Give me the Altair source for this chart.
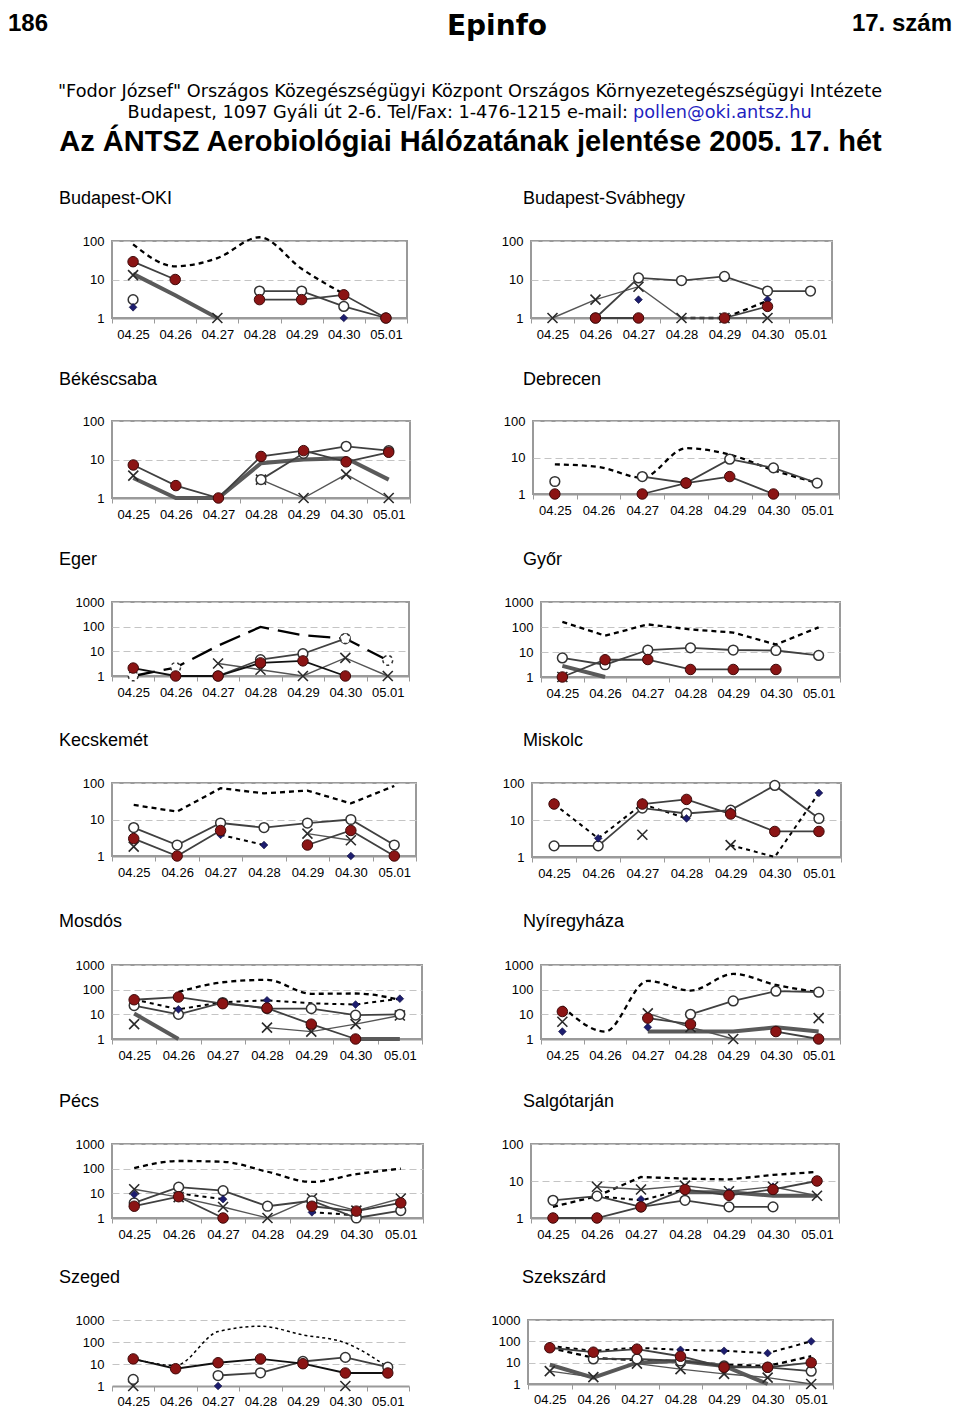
import altair as alt
import pandas as pd

DATES = ["04.25", "04.26", "04.27", "04.28", "04.29", "04.30", "05.01"]

# ---- Budapest-OKI
OKI_TOT = [82, 22, 36, 125, 19, 4.2, None]
OKI_OPEN = [3, None, None, 5, 5, 2, 1]
OKI_RED = [29, 10, None, 3, 3, 4, 1]
OKI_DIA = [1.9, None, None, None, None, 1, None]
OKI_CROSS = [13, None, 1, None, None, None, None]
OKI_THICK = [14, 3.9, 1, None, None, None, None]
# ---- Budapest-Svábhegy
SVA_TOT = [None, None, None, 1, 1, 2.8, None]
SVA_OPEN = [None, 1, 11, 9.4, 12, 5, 5]
SVA_RED = [None, 1, 1, None, 1, 2, None]
SVA_DIA = [None, None, 3, None, None, 3, None]
SVA_CROSS = [1, 3, 6.5, 1, 1, 1, None]
# ---- Békéscsaba
BEK_RED = [7.2, 2.1, 1, 12, 17, 8.7, 15.4]
BEK_OPEN = [None, None, None, 3, 14.5, 22, 17]
BEK_CROSS = [3.8, None, None, 3, 1, 4.1, 1]
BEK_THICK = [3.3, 1, 1, 8, 10, 10.8, 3]
# ---- Debrecen
DEB_TOT = [6.5, 5.5, 2.8, 18, 12, 4.5, 2]
DEB_OPEN = [2.2, None, 3, 2, 9, 5.2, 2]
DEB_RED = [1, None, 1, 2, 3, 1, None]
# ---- Eger
EGE_TOT = [1, 2.2, 17, 97, 45, 33, 4.3]
EGE_RING = [1, 2.2, None, None, None, 33, 4.3]
EGE_OPEN = [None, None, 1, 4.6, 8, 33, None]
EGE_RED = [2.1, 1, 1, 3.4, 4.1, 1, None]
EGE_CROSS = [None, None, 3.2, 1.8, 1, 5.4, 1]
# ---- Győr
GYO_TOT = [160, 45, 127, 80, 60, 20, 97]
GYO_OPEN = [5.8, 3.1, 12, 14.6, 12, 11.5, 7.3]
GYO_RED = [1, 4.9, 5, 2, 2, 2, None]
GYO_CROSS = [1, None, None, None, None, None, None]
GYO_THICK = [2.8, 1, None, None, None, None, None]
# ---- Kecskemét
KEC_TOT = [25, 16.5, 72, 52, 62, 27.6, 83]
KEC_OPEN = [6, 2, 8, 6, 8, 10, 2]
KEC_RED = [3, 1, 5, None, 2, 5, 1]
KEC_DIA = [None, None, 3.8, 2, None, 1, None]
KEC_DLINE = [None, None, 3.8, 2, None, None, None]
KEC_CROSS = [1.8, None, None, None, 4.1, 2.7, None]
# ---- Miskolc
MIS_OPEN = [2, 2, 21, 15, 18.5, 86, 11]
MIS_RED = [27, None, 27, 36, 14.5, 4.9, 4.9]
MIS_DIA = [30, 3.2, 30, 11, 17, None, 54]
MIS_DLINE = [27, 3.2, 27, 11, None, None, None]
MIS_TOT2 = [None, None, None, None, 2.1, 1, 54]
MIS_CROSS = [None, None, 4, None, 2.1, None, None]
# ---- Mosdós
MOS_TOT = [None, 80, 200, 250, 68, 70, 39]
MOS_DLINE = [40, 16, 31, 37, 28, 25, 43]
MOS_DIA = [40, 16, 31, 37, None, 25, 43]
MOS_RED = [39, 50, 27, 18, 4, 1, None]
MOS_OPEN = [22.6, 10, 30, 17, 17, 9.3, 10]
MOS_CROSS = [4, None, None, 2.9, 2, 4, 9]
MOS_THICK = [10.8, 1, None, None, None, 1, 1]
# ---- Nyíregyháza
NYI_TOT = [21, 2, 228, 92, 435, 156, 79]
NYI_OPEN = [None, None, None, 10, 35, 87, 79]
NYI_RED = [13, None, 7, 4, None, 2, 1]
NYI_DIA = [2, None, 3, None, None, None, None]
NYI_CROSS = [5, None, 11, 3, 1, None, 7]
NYI_THICK = [None, None, 2, 2, 2, 3, 2]
# ---- Pécs
PEC_TOT = [105, 205, 190, 75, 29, 60, 100]
PEC_OPEN = [4.1, 17.8, 12.9, 3, 5, 1, 2]
PEC_RED = [3, 7.3, 1, None, 3, 1.9, 4.1]
PEC_CROSS = [14.6, 7, 2.8, 1, 6.2, 2, 6.2]
PEC_DIA = [9, None, 5.8, None, 1.7, None, None]
PEC_DLINE = [None, 10, 5.8, None, 1.7, 1.3, None]
# ---- Salgótarján
SAL_TOT = [2, 3.9, 12.8, 11.6, 11, 14.6, 17.6]
SAL_TOT2 = [None, 3.9, 3, 6, None, None, None]
SAL_OPEN = [3, 3.9, 2, 3, 2, 2, None]
SAL_RED = [1, 1, 2, 5.9, 4.1, 5.9, 10]
SAL_CROSS = [None, 7, 5.9, 7.5, 5.3, 7, 4]
SAL_DIA = [None, None, 3.2, None, 5, 7, None]
SAL_THICK = [None, None, None, 5, 5, 4, 4]
# ---- Szeged
SZG_TOT = [17, 8.6, 297, 520, 210, 91, 7.2]
SZG_RED = [17, 6.1, 11.4, 17, 10.3, 3.9, 3.9]
SZG_OPEN = [2, None, 3, 4, 13, 20, 7.2]
SZG_DIA = [None, None, 1, None, None, None, None]
SZG_CROSS = [1, None, None, None, None, 1, None]
# ---- Szekszárd
SZK_DLINE = [61, 36, 50, 40, 36, 28, 100]
SZK_DIA = [61, 36, 50, 40, 36, 28, 100]
SZK_RED = [50, 31, 43, 20, 6.1, 6.1, 10]
SZK_OPEN = [None, 15, 15, 12, 7, 6, 4]
SZK_CROSS = [4, 2.1, 9, 5, 3, 2, 1]
SZK_TOT = [50, 17, 13, 12, 8, 7, 20]
SZK_THICK = [8, 2, 10, 12, 7, 1, None]

PANELS = [
    dict(name="Budapest-OKI", ymax=100, interp="monotone",
         series=dict(tot=OKI_TOT, thick=OKI_THICK, cross=OKI_CROSS, open=OKI_OPEN, dia=OKI_DIA, red=OKI_RED)),
    dict(name="Budapest-Svábhegy", ymax=100,
         series=dict(tot=SVA_TOT, cross=SVA_CROSS, open=SVA_OPEN, dia=SVA_DIA, red=SVA_RED)),
    dict(name="Békéscsaba", ymax=100,
         series=dict(thick=BEK_THICK, cross=BEK_CROSS, open=BEK_OPEN, red=BEK_RED)),
    dict(name="Debrecen", ymax=100, interp="monotone",
         series=dict(tot=DEB_TOT, open=DEB_OPEN, red=DEB_RED)),
    dict(name="Eger", ymax=1000, dash=[22, 9], redline="#111111",
         series=dict(tot=EGE_TOT, cross=EGE_CROSS, open=EGE_OPEN, ring=EGE_RING, red=EGE_RED)),
    dict(name="Győr", ymax=1000,
         series=dict(tot=GYO_TOT, thick=GYO_THICK, cross=GYO_CROSS, open=GYO_OPEN, red=GYO_RED)),
    dict(name="Kecskemét", ymax=100,
         series=dict(tot=KEC_TOT, dline=KEC_DLINE, cross=KEC_CROSS, open=KEC_OPEN, dia=KEC_DIA, red=KEC_RED)),
    dict(name="Miskolc", ymax=100,
         series=dict(dline=MIS_DLINE, tot2=MIS_TOT2, cross=MIS_CROSS, open=MIS_OPEN, dia=MIS_DIA, red=MIS_RED)),
    dict(name="Mosdós", ymax=1000, interp="monotone",
         series=dict(tot=MOS_TOT, dline=MOS_DLINE, thick=MOS_THICK, cross=MOS_CROSS, open=MOS_OPEN, dia=MOS_DIA, red=MOS_RED)),
    dict(name="Nyíregyháza", ymax=1000, interp="monotone",
         series=dict(tot=NYI_TOT, thick=NYI_THICK, cross=NYI_CROSS, open=NYI_OPEN, dia=NYI_DIA, red=NYI_RED)),
    dict(name="Pécs", ymax=1000, interp="monotone",
         series=dict(tot=PEC_TOT, dline=PEC_DLINE, cross=PEC_CROSS, open=PEC_OPEN, dia=PEC_DIA, red=PEC_RED)),
    dict(name="Salgótarján", ymax=100,
         series=dict(tot=SAL_TOT, tot2=SAL_TOT2, thick=SAL_THICK, cross=SAL_CROSS, open=SAL_OPEN, dia=SAL_DIA, red=SAL_RED)),
    dict(name="Szeged", ymax=1000, interp="monotone", dash=[3, 3], totw=1.5, redline="#111111", border=False,
         series=dict(tot=SZG_TOT, cross=SZG_CROSS, open=SZG_OPEN, dia=SZG_DIA, red=SZG_RED)),
    dict(name="Szekszárd", ymax=1000,
         series=dict(tot=SZK_TOT, dline=SZK_DLINE, thick=SZK_THICK, cross=SZK_CROSS, open=SZK_OPEN, dia=SZK_DIA, red=SZK_RED)),
]

# ---- layout (page pixels)
ORIGIN_X = 112                     # common left edge of the left-hand plots
ROW_TOP = [240, 420, 601, 782, 964, 1143, 1319]
TITLE_Y = [197, 378, 558, 739, 920, 1100, 1276]
TITLE_X = [59, 521]
ROW_FUDGE = 2                      # layout rounding per row
# plot left & right edge, plot bottom
GEOM = {
    "Budapest-OKI": (ORIGIN_X, 407, 317),
    "Budapest-Svábhegy": (529, 830, 317),
    "Békéscsaba": (ORIGIN_X, 410, 497),
    "Debrecen": (531, 837, 493),
    "Eger": (ORIGIN_X, 409, 675),
    "Győr": (539, 838, 676),
    "Kecskemét": (ORIGIN_X, 416, 855),
    "Miskolc": (530, 839, 856),
    "Mosdós": (ORIGIN_X, 422, 1038),
    "Nyíregyháza": (539, 838, 1038),
    "Pécs": (ORIGIN_X, 423, 1217),
    "Salgótarján": (529, 837, 1217),
    "Szeged": (ORIGIN_X, 409, 1385),
    "Szekszárd": (527, 832, 1383),
}
FONT = "Liberation Sans"
XPATH = "M-1,-1L1,1M-1,1L1,-1"
one = alt.Data(values=[{}])


def rows_for(key, vals):
    out = []
    seg = 0
    prev = False
    for d, v in zip(DATES, vals):
        if v is None:
            prev = False
            continue
        if not prev:
            seg += 1
        prev = True
        out.append({"date": d, "value": float(v), "s": key, "seg": f"{key}-{seg}"})
    return out


def build_panel(p, col, row):
    L, R, B = GEOM[p["name"]]
    T = ROW_TOP[row]
    w, h = R - L, B - T
    ymax = p["ymax"]
    ticks = [1, 10, 100] + ([1000] if ymax == 1000 else [])
    recs = []
    for k, v in p["series"].items():
        recs += rows_for(k, v)
    df = pd.DataFrame(recs)
    if row < 6:
        xext = (TITLE_Y[row + 1] - 8) - B - ROW_FUDGE
        lpad = 5
    else:
        xext = 22
        lpad = 4
    xenc = alt.X("date:O", sort=DATES,
                 scale=alt.Scale(type="band", domain=DATES, paddingInner=0, paddingOuter=0),
                 bandPosition=0.5,
                 axis=alt.Axis(title=None, labelAngle=0, tickBand="extent", grid=False,
                               domain=True, domainColor="#9a9a9a", domainWidth=2,
                               tickColor="#9a9a9a", tickSize=5, tickWidth=1,
                               labelFont=FONT, labelFontSize=13, labelColor="black",
                               labelPadding=lpad, minExtent=xext, maxExtent=xext))
    yenc = alt.Y("value:Q", scale=alt.Scale(type="log", domain=[1, ymax]),
                 axis=alt.Axis(title=None, values=ticks, format="d", grid=True,
                               gridColor="#c4c4c4", gridDash=[7, 4], gridWidth=1,
                               ticks=False, domain=False,
                               labelFont=FONT, labelFontSize=13, labelColor="black",
                               labelPadding=8, minExtent=40))
    base = alt.Chart(df).encode(x=xenc, y=yenc)

    def sel(k):
        return base.transform_filter(alt.datum.s == k)

    S = p["series"]
    layers = []
    if "tot" in S:
        layers.append(sel("tot").mark_line(color="black", strokeWidth=p.get("totw", 2.3),
                                           strokeDash=p.get("dash", [5, 4]),
                                           interpolate=p.get("interp", "linear"))
                      .encode(detail="seg:N"))
    if "tot2" in S:
        layers.append(sel("tot2").mark_line(color="black", strokeWidth=2, strokeDash=[4, 4])
                      .encode(detail="seg:N"))
    if "dline" in S:
        layers.append(sel("dline").mark_line(color="black", strokeWidth=2, strokeDash=[4, 4])
                      .encode(detail="seg:N"))
    if "thick" in S:
        layers.append(sel("thick").mark_line(color="#5a5a5a", strokeWidth=4)
                      .encode(detail="seg:N"))
    if "cross" in S:
        layers.append(sel("cross").mark_line(color="#555555", strokeWidth=1.4)
                      .encode(detail="seg:N"))
        layers.append(sel("cross").mark_point(shape=XPATH, size=100, filled=False,
                                              color="#2a2a2a", strokeWidth=1.6, opacity=1))
    if "open" in S:
        layers.append(sel("open").mark_line(color="#404040", strokeWidth=1.8)
                      .encode(detail="seg:N"))
        layers.append(sel("open").mark_circle(size=95, fill="white", stroke="#333333",
                                              strokeWidth=1.5, opacity=1))
    if "ring" in S:
        layers.append(sel("ring").mark_circle(size=95, fill="white", stroke="#333333",
                                              strokeWidth=1.5, strokeDash=[3, 3], opacity=1))
    if "dia" in S:
        layers.append(sel("dia").mark_point(shape="diamond", size=60, filled=True,
                                            fill="#1d1d6e", stroke="#0c0c3a",
                                            strokeWidth=0.6, opacity=1))
    if "red" in S:
        layers.append(sel("red").mark_line(color=p.get("redline", "#404040"), strokeWidth=1.8)
                      .encode(detail="seg:N"))
        layers.append(sel("red").mark_circle(size=110, fill="#8b1414", stroke="#3d0a0a",
                                             strokeWidth=1, opacity=1))
    # panel title as a text mark above the plot
    layers.append(alt.Chart(one).mark_text(text=p["name"], align="left", baseline="alphabetic",
                                           font=FONT, fontSize=18, color="black").encode(
        x=alt.value(TITLE_X[col] - L), y=alt.value(TITLE_Y[row] + 6.4 - T)))

    if p.get("border", True):
        view = alt.ViewBackground(stroke="#9a9a9a", strokeWidth=2)
    else:
        view = alt.ViewBackground(stroke=None)
    return alt.layer(*layers).properties(width=w, height=h, view=view)


# ---- header (x relative to the left plots' origin, y relative to the page top margin)
def hx(page_x):
    return page_x - ORIGIN_X


def txt(s, x, y, size, weight="normal", align="left", color="black", font=FONT):
    return alt.Chart(one).mark_text(text=s, align=align, baseline="alphabetic", fontSize=size,
                                    fontWeight=weight, color=color, font=font).encode(
        x=alt.value(x), y=alt.value(y))


HEADER_H = TITLE_Y[0] - 8 - 8
header = alt.layer(
    alt.Chart(one).mark_rule(color="white", opacity=0).encode(
        x=alt.value(0), y=alt.value(0), y2=alt.value(HEADER_H)),
    txt("186", hx(8), 23, 24, "bold"),
    txt("17. szám", hx(952), 23, 24, "bold", align="right"),
    txt("Epinfo", hx(497), 27, 28, "bold", align="center", font="DejaVu Sans"),
    txt('"Fodor József" Országos Közegészségügyi Központ Országos Környezetegészségügyi Intézete',
        hx(470), 89.4, 17.7, align="center", font="DejaVu Sans"),
    txt("Budapest, 1097 Gyáli út 2-6. Tel/Fax: 1-476-1215 e-mail:", hx(628), 110.4, 17.7,
        align="right", font="DejaVu Sans"),
    txt("pollen@oki.antsz.hu", hx(633), 110.4, 17.7, color="#1f1fbf", font="DejaVu Sans"),
    txt("Az ÁNTSZ Aerobiológiai Hálózatának jelentése 2005. 17. hét", hx(470.5), 143.4, 29,
        "bold", align="center"),
).properties(width=hx(952), height=HEADER_H, view=alt.ViewBackground(stroke=None))

rows = []
for r in range(7):
    pl, pr = PANELS[2 * r], PANELS[2 * r + 1]
    Lr = GEOM[pl["name"]][1]
    Rl = GEOM[pr["name"]][0]
    sp = (Rl - 40) - (Lr + 1)
    rows.append(alt.hconcat(build_panel(pl, 0, r), build_panel(pr, 1, r), spacing=sp))

chart = alt.vconcat(header, *rows, spacing=0).properties(padding=0).configure_view(
    stroke=None).configure(background="white")

chart.save("out.html", embed_options={"renderer": "svg", "actions": False})
